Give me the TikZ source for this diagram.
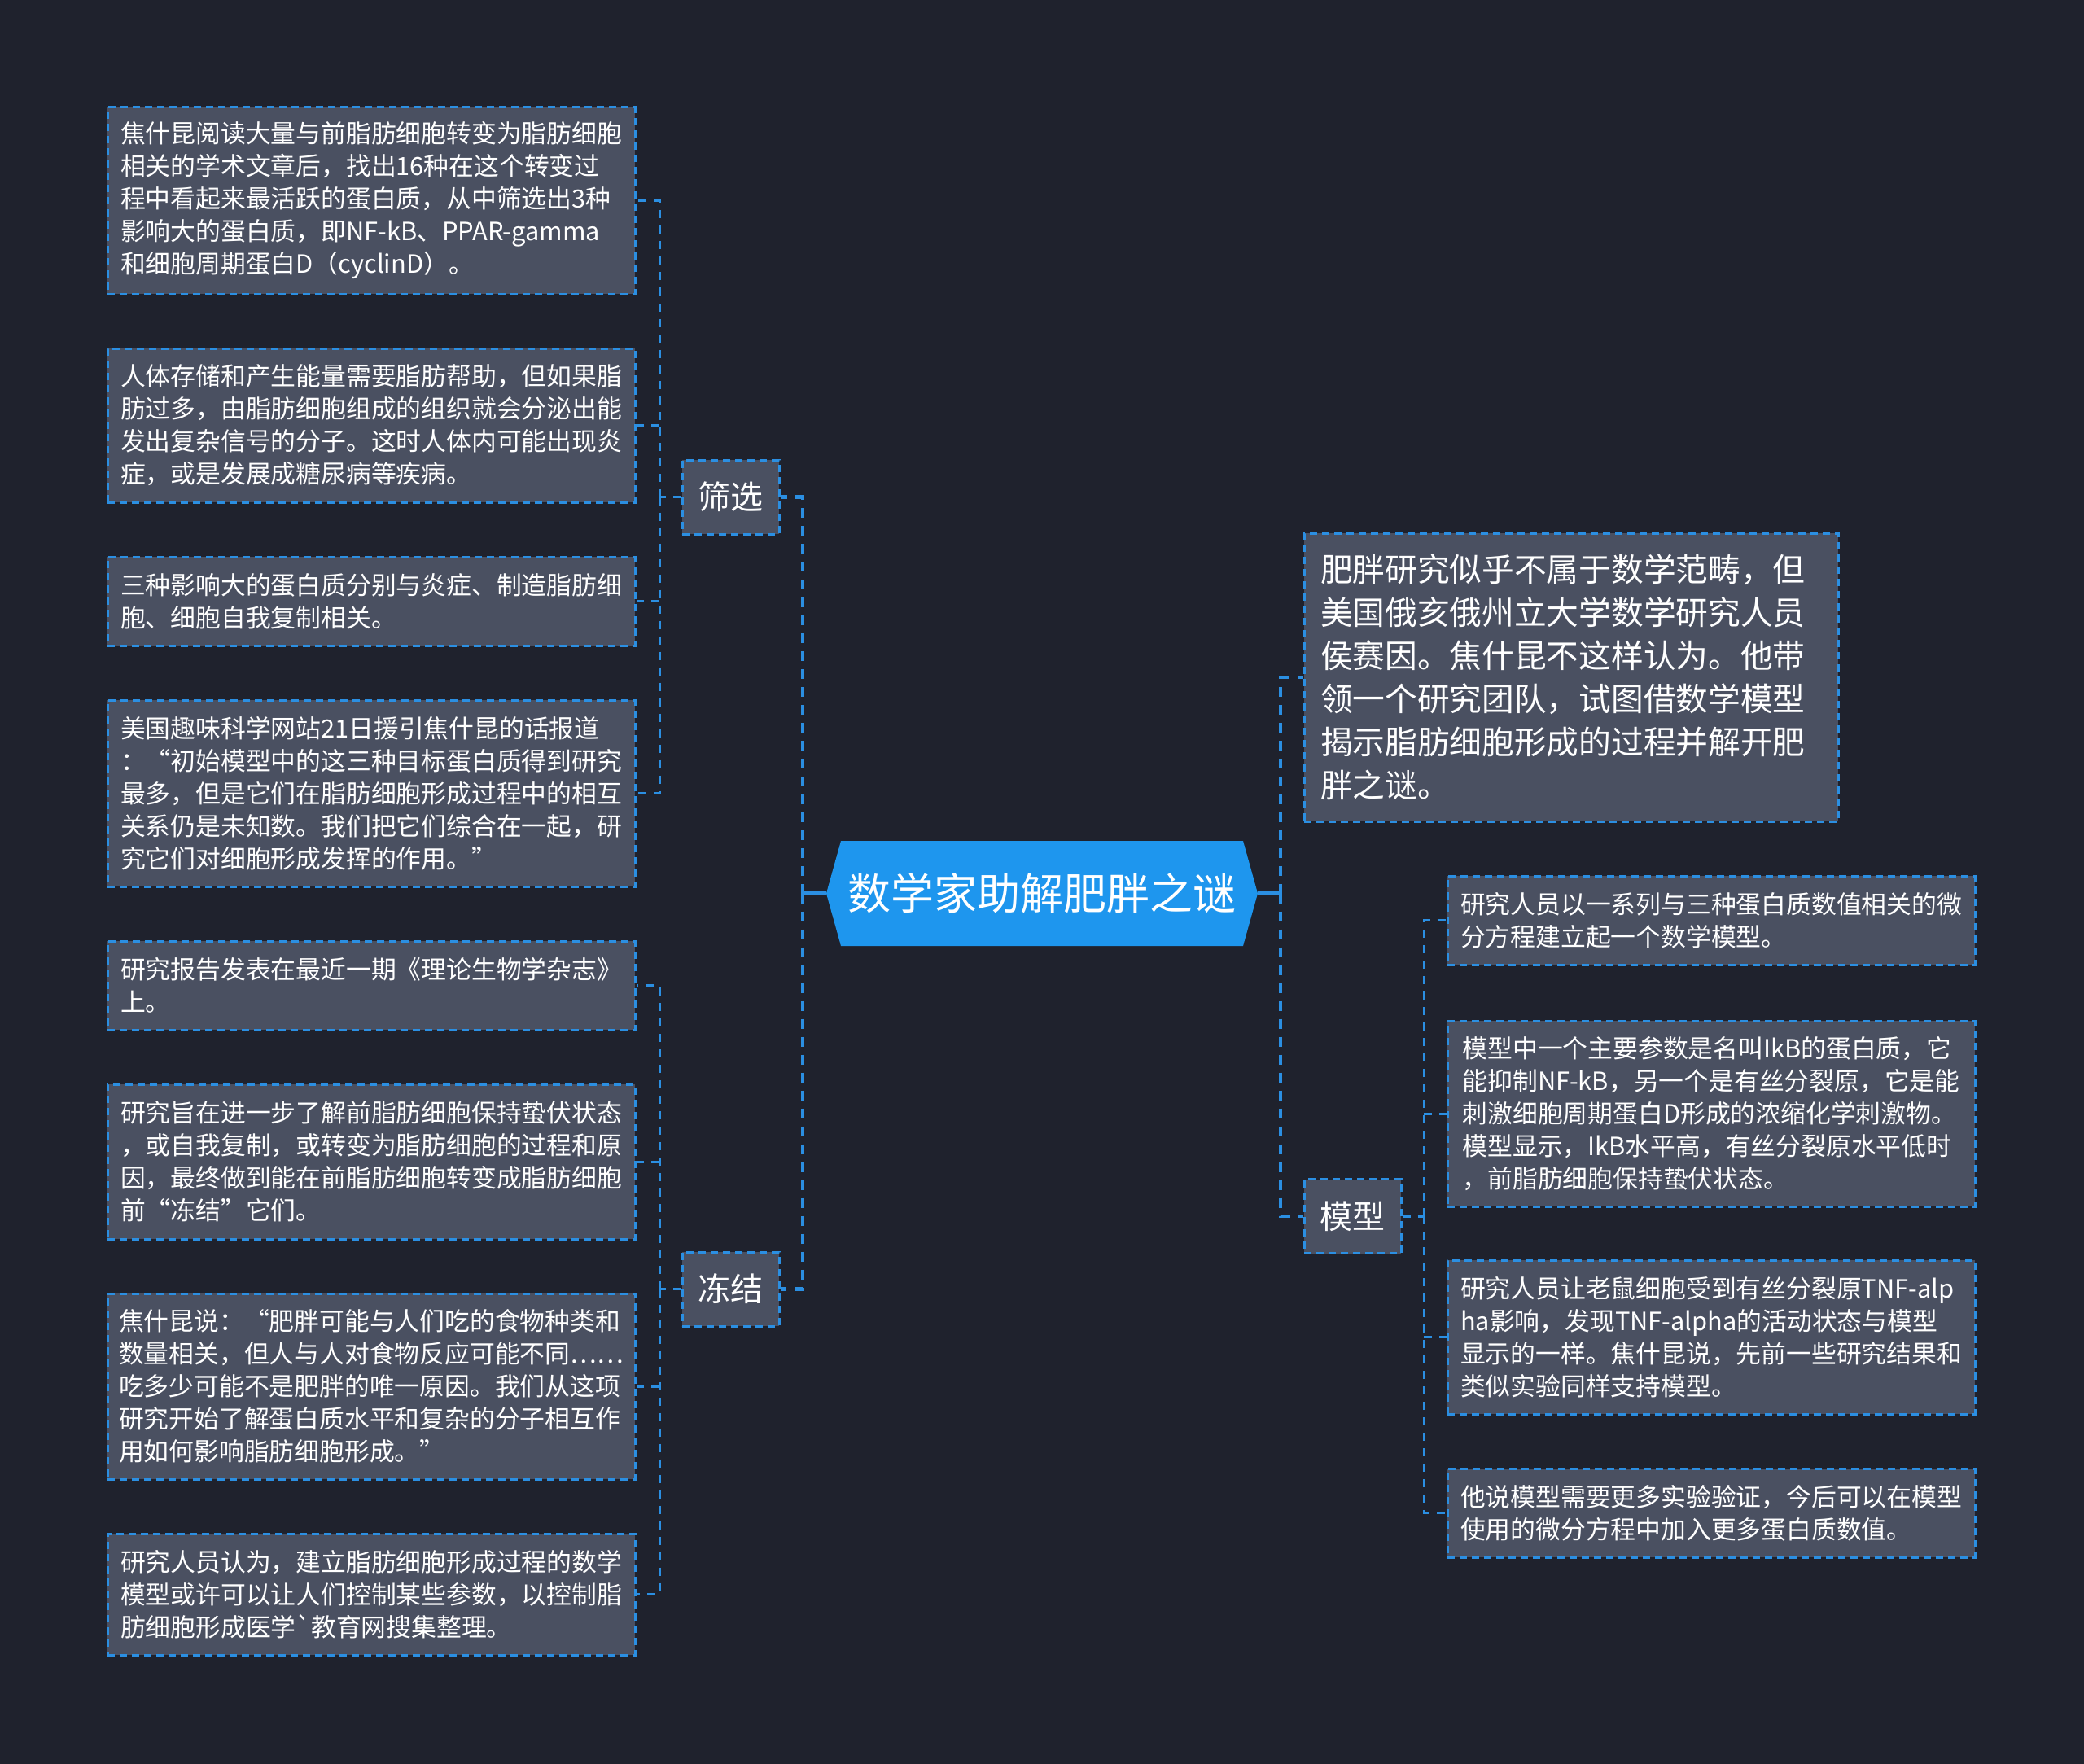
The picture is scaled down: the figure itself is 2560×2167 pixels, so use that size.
\documentclass[tikz,border=0pt]{standalone}
\usepackage{fontspec}
\setmainfont{Noto Sans CJK SC}
\font\gravefont="Noto Sans CJK SC" at 30.8pt
\definecolor{bg}{HTML}{1F222D}
\definecolor{boxfill}{HTML}{4A5061}
\definecolor{lineblue}{HTML}{2B8FE2}
\definecolor{rootblue}{HTML}{1E96EE}
\begin{document}
\begin{tikzpicture}[x=1pt,y=-1pt,
  leaf/.style={draw=lineblue, line width=3pt, dash pattern=on 9pt off 6pt, fill=boxfill, text=white, align=left,
    font=\fontsize{30.8pt}{40pt}\selectfont, inner sep=0pt, minimum width=648pt},
  cat/.style={draw=lineblue, line width=3pt, dash pattern=on 9pt off 6pt, fill=boxfill, text=white,
    font=\fontsize{40pt}{48pt}\selectfont, inner sep=0pt, minimum width=119pt, minimum height=91pt},
  big/.style={leaf, font=\fontsize{39.7pt}{53pt}\selectfont, text width=616pt, minimum width=656pt, minimum height=354pt},
  rootnode/.style={fill=bg, inner sep=0pt, minimum width=530pt, minimum height=129pt, text=white,
    font=\fontsize{53pt}{60pt}\selectfont,
    path picture={\fill[rootblue] (path picture bounding box.west)
      -- ([xshift=18pt]path picture bounding box.north west)
      -- ([xshift=-18pt]path picture bounding box.north east)
      -- (path picture bounding box.east)
      -- ([xshift=-18pt]path picture bounding box.south east)
      -- ([xshift=18pt]path picture bounding box.south west) -- cycle;}},
  stub/.style={draw=lineblue, line width=4.5pt},
  trunkA/.style={draw=lineblue, line width=4.5pt, dash pattern=on 12pt off 10pt},
  trunkB/.style={draw=lineblue, line width=3pt, dash pattern=on 10pt off 9pt}
]
\useasboundingbox (0,0) rectangle (2560,2167);
\fill[bg] (0,0) rectangle (2560,2167);

% root
\node[rootnode] (root) at (1280,1097.5) {数学家助解肥胖之谜};

% first level
\node[cat] (shaixuan) at (897.5,610.5) {筛选};
\node[cat] (dongjie) at (897.5,1583.5) {冻结};
\node[cat] (moxing) at (1661.5,1494) {模型};
\node[big] (T) at (1930,832) {肥胖研究似乎不属于数学范畴，但\\美国俄亥俄州立大学数学研究人员\\侯赛因。焦什昆不这样认为。他带\\领一个研究团队，试图借数学模型\\揭示脂肪细胞形成的过程并解开肥\\胖之谜。};

% left leaves
\node[leaf, minimum height=229pt] (L1) at (456,246.5) {焦什昆阅读大量与前脂肪细胞转变为脂肪细胞\\相关的学术文章后，找出16种在这个转变过\\程中看起来最活跃的蛋白质，从中筛选出3种\\影响大的蛋白质，即NF-kB、PPAR-gamma\\和细胞周期蛋白D（cyclinD）。};
\node[leaf, minimum height=189pt] (L2) at (456,522.5) {人体存储和产生能量需要脂肪帮助，但如果脂\\肪过多，由脂肪细胞组成的组织就会分泌出能\\发出复杂信号的分子。这时人体内可能出现炎\\症，或是发展成糖尿病等疾病。};
\node[leaf, minimum height=109pt] (L3) at (456,738.5) {三种影响大的蛋白质分别与炎症、制造脂肪细\\胞、细胞自我复制相关。};
\node[leaf, minimum height=229pt] (L4) at (456,974.5) {美国趣味科学网站21日援引焦什昆的话报道\\：“初始模型中的这三种目标蛋白质得到研究\\最多，但是它们在脂肪细胞形成过程中的相互\\关系仍是未知数。我们把它们综合在一起，研\\究它们对细胞形成发挥的作用。”};
\node[leaf, minimum height=109pt] (L5) at (456,1210.5) {研究报告发表在最近一期《理论生物学杂志》\\上。};
\node[leaf, minimum height=190pt] (L6) at (456,1427) {研究旨在进一步了解前脂肪细胞保持蛰伏状态\\，或自我复制，或转变为脂肪细胞的过程和原\\因，最终做到能在前脂肪细胞转变成脂肪细胞\\前“冻结”它们。};
\node[leaf, minimum height=228pt] (L7) at (456,1703) {焦什昆说：“肥胖可能与人们吃的食物种类和\\数量相关，但人与人对食物反应可能不同……\\吃多少可能不是肥胖的唯一原因。我们从这项\\研究开始了解蛋白质水平和复杂的分子相互作\\用如何影响脂肪细胞形成。”};
\node[leaf, minimum height=149pt] (L8) at (456,1958.5) {研究人员认为，建立脂肪细胞形成过程的数学\\模型或许可以让人们控制某些参数，以控制脂\\肪细胞形成医学{\gravefont `}教育网搜集整理。};

% right leaves
\node[leaf, minimum height=109pt] (R1) at (2102,1130.5) {研究人员以一系列与三种蛋白质数值相关的微\\分方程建立起一个数学模型。};
\node[leaf, minimum height=228pt] (R2) at (2102,1368) {模型中一个主要参数是名叫IkB的蛋白质，它\\能抑制NF-kB，另一个是有丝分裂原，它是能\\刺激细胞周期蛋白D形成的浓缩化学刺激物。\\模型显示，IkB水平高，有丝分裂原水平低时\\，前脂肪细胞保持蛰伏状态。};
\node[leaf, minimum height=189pt] (R3) at (2102,1642.5) {研究人员让老鼠细胞受到有丝分裂原TNF-alp\\ha影响，发现TNF-alpha的活动状态与模型\\显示的一样。焦什昆说，先前一些研究结果和\\类似实验同样支持模型。};
\node[leaf, minimum height=109pt] (R4) at (2102,1858.5) {他说模型需要更多实验验证，今后可以在模型\\使用的微分方程中加入更多蛋白质数值。};

% junction coordinates
\coordinate (tl) at (986,1097.5);
\coordinate (tr) at (1573,1097.5);
\coordinate (sx) at (810,610.5);
\coordinate (dj) at (810,1583.5);
\coordinate (mx) at (1749,1494);

% root connectors
\draw[stub] (root.west) -- (tl);
\draw[trunkA] (tl) |- (shaixuan.east);
\draw[trunkA] (tl) |- (dongjie.east);
\draw[stub] (root.east) -- (tr);
\draw[trunkA] (tr) |- (T.west);
\draw[trunkA] (tr) |- (moxing.west);

% 筛选 connectors
\draw[trunkB] (shaixuan.west) -- (sx);
\draw[trunkB] (sx) |- (L1.east);
\draw[trunkB] (sx) |- (L4.east);
\draw[trunkB] (sx |- L2.east) -- (L2.east);
\draw[trunkB] (sx |- L3.east) -- (L3.east);

% 冻结 connectors
\draw[trunkB] (dongjie.west) -- (dj);
\draw[trunkB] (dj) |- (L5.east);
\draw[trunkB] (dj) |- (L8.east);
\draw[trunkB] (dj |- L6.east) -- (L6.east);
\draw[trunkB] (dj |- L7.east) -- (L7.east);

% 模型 connectors
\draw[trunkB] (moxing.east) -- (mx);
\draw[trunkB] (mx) |- (R1.west);
\draw[trunkB] (mx) |- (R4.west);
\draw[trunkB] (mx |- R2.west) -- (R2.west);
\draw[trunkB] (mx |- R3.west) -- (R3.west);
\end{tikzpicture}
\end{document}
